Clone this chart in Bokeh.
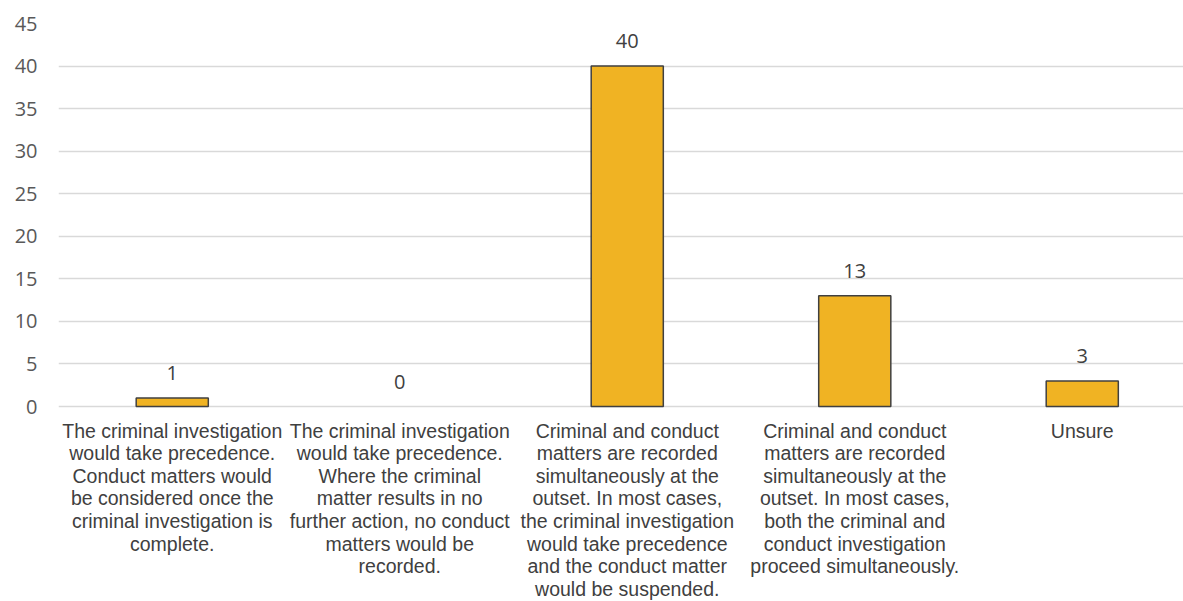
from bokeh.plotting import figure
from bokeh.models import Range1d, FixedTicker, ColumnDataSource
from bokeh.embed import file_html
from bokeh.resources import INLINE
from bokeh.core.properties import value

categories = [
    "The criminal investigation\nwould take precedence.\nConduct matters would\nbe considered once the\ncriminal investigation is\ncomplete.",
    "The criminal investigation\nwould take precedence.\nWhere the criminal\nmatter results in no\nfurther action, no conduct\nmatters would be\nrecorded.",
    "Criminal and conduct\nmatters are recorded\nsimultaneously at the\noutset. In most cases,\nthe criminal investigation\nwould take precedence\nand the conduct matter\nwould be suspended.",
    "Criminal and conduct\nmatters are recorded\nsimultaneously at the\noutset. In most cases,\nboth the criminal and\nconduct investigation\nproceed simultaneously.",
    "Unsure",
]
counts = [1, 0, 40, 13, 3]
y_ticks = [0, 5, 10, 15, 20, 25, 30, 35, 40, 45]

xs = list(range(len(categories)))
src = ColumnDataSource(dict(
    x=xs, top=counts, lab=[str(c) for c in counts],
    lc=["#404040" if c > 0 else None for c in counts],
    cat=categories, zero=[0] * len(categories),
))

# frame: 23px top margin, 0..45 occupies 383px, rest below is label space
px_per_unit = 383 / 45
y_bottom = -(578 - 383) / px_per_unit

p = figure(frame_width=1125, frame_height=578, output_backend="svg", toolbar_location=None,
           x_range=Range1d(-0.5, 4.445), y_range=Range1d(y_bottom, 45),
           min_border_left=58, min_border_right=0, min_border_top=23, min_border_bottom=0)
p.outline_line_color = None
p.background_fill_color = "white"
p.border_fill_color = "white"

p.vbar(x="x", top="top", width=0.317, bottom=0, source=src,
       fill_color="#F0B323", line_color="lc", line_width=1.5)

p.text(x="x", y="top", text="lab", source=src, text_align="center", text_baseline="bottom",
       y_offset=-18, text_font=value("Open Sans"), text_font_size="20px", text_color="#404040")

p.text(x="x", y="zero", text="cat", source=src, text_align="center", text_baseline="top",
       y_offset=13, text_font=value("Liberation Sans"), text_font_size="19.5px",
       text_color="#404040", text_line_height=1.03)

p.xaxis.visible = False
p.xgrid.grid_line_color = None

p.yaxis.ticker = FixedTicker(ticks=y_ticks)
p.yaxis.major_label_text_font = "Open Sans"
p.yaxis.major_label_text_font_size = "20px"
p.yaxis.major_label_text_color = "#595959"
p.yaxis.major_label_standoff = 15
p.yaxis.axis_line_color = None
p.yaxis.major_tick_line_color = None
p.yaxis.minor_tick_line_color = None
p.ygrid.ticker = FixedTicker(ticks=y_ticks)
p.ygrid.grid_line_color = "#D9D9D9"
p.ygrid.grid_line_width = 1.5

open("out.html", "w").write(file_html(p, INLINE))
